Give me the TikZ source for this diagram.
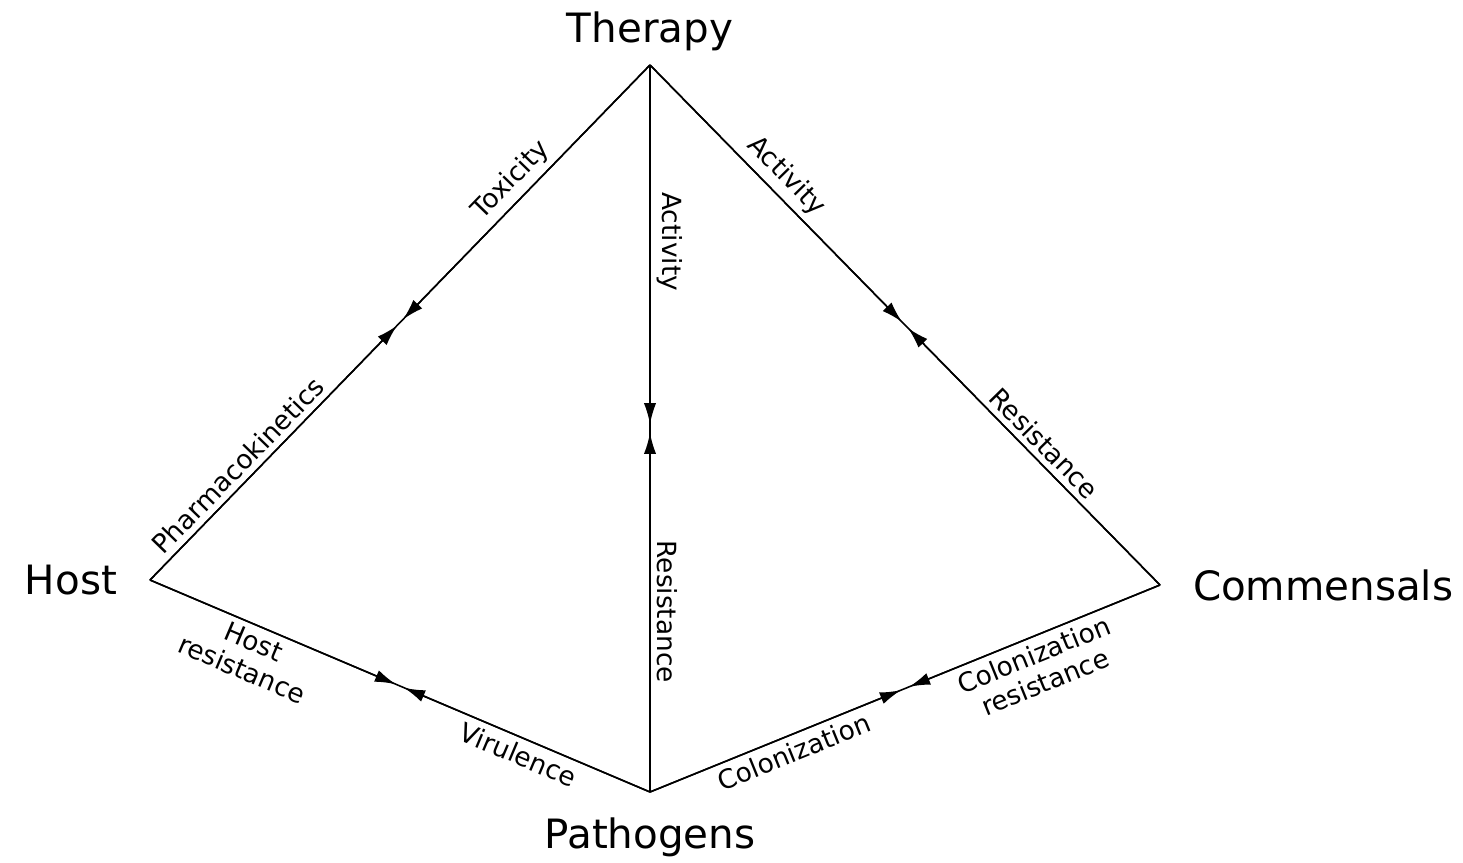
\documentclass[tikz,border=0pt]{standalone}
\usepackage{fontspec}
\setmainfont{DejaVu Sans}
\usetikzlibrary{arrows.meta,calc}

\begin{document}
\begin{tikzpicture}[x=0.02cm, y=-0.02cm, line width=0.9pt,
    vtx/.style={font=\fontsize{23}{26}\selectfont},
    lbl/.style={font=\fontsize{15}{17}\selectfont, sloped, align=center},
    arr/.style={-{Latex[length=12pt,width=7pt]}, shorten >=2.5pt}]
    \useasboundingbox (0,0) rectangle (1463,862);

    % corners
    \coordinate (therapy) at (650,65);
    \coordinate (host) at (150,580);
    \coordinate (comm) at (1160,585);
    \coordinate (path) at (650,792);

    \node[vtx, above=4.5pt] (tlab) at (therapy) {Therapy};
    \node[vtx, left=15pt] (hlab) at (host) {Host};
    \node[vtx, right=15pt] (clab) at (comm) {Commensals};
    \node[vtx, below=11pt] (plab) at (path) {Pathogens};

    % edges with labels
    \draw (host) -- (therapy)
        node[lbl, pos=0.2, above] (pk) {Pharmacokinetics}
        node[lbl, pos=0.75, above] (tox) {Toxicity};
    \draw (therapy) -- (comm)
        node[lbl, pos=0.24, above] (act1) {Activity}
        node[lbl, pos=0.75, above] (res1) {Resistance};
    \draw (therapy) -- (path)
        node[lbl, pos=0.243, above] (act2) {Activity}
        node[lbl, pos=0.752, above] (res2) {Resistance};
    \draw (host) -- (path)
        node[lbl, pos=0.22, below] (hres) {Host\\resistance}
        node[lbl, pos=0.75, below] (vir) {Virulence};
    \draw (path) -- (comm)
        node[lbl, pos=0.27, below] (col) {Colonization}
        node[lbl, pos=0.74, below] (cres) {Colonization\\resistance};

    % midpoints
    \coordinate (m1) at ($(host)!0.5!(therapy)$);
    \coordinate (m2) at ($(therapy)!0.5!(comm)$);
    \coordinate (m3) at ($(therapy)!0.5!(path)$);
    \coordinate (m4) at ($(host)!0.5!(path)$);
    \coordinate (m5) at ($(path)!0.5!(comm)$);

    % arrows meeting in the middle
    \draw[arr] (therapy) -- (m1);
    \draw[arr] (host) -- (m1);
    \draw[arr] (therapy) -- (m2);
    \draw[arr] (comm) -- (m2);
    \draw[arr] (therapy) -- (m3);
    \draw[arr] (path) -- (m3);
    \draw[arr] (host) -- (m4);
    \draw[arr] (path) -- (m4);
    \draw[arr] (path) -- (m5);
    \draw[arr] (comm) -- (m5);
\end{tikzpicture}
\end{document}
